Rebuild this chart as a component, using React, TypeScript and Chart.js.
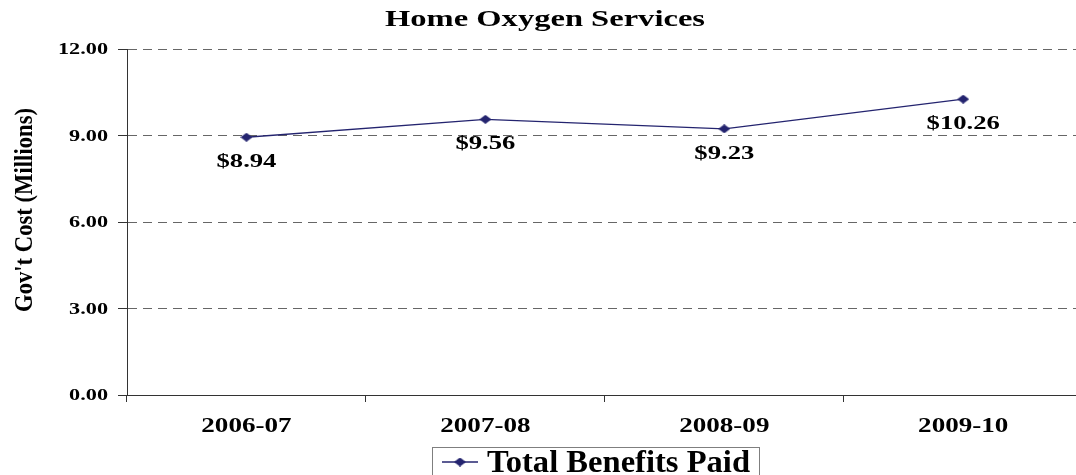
import React, { useEffect, useRef } from "react";
import { Chart, registerables } from "chart.js";

Chart.register(...registerables);

const title = "Home Oxygen Services";
const yAxisTitle = "Gov't Cost (Millions)";
const seriesName = "Total Benefits Paid";
const categories = ["2006-07", "2007-08", "2008-09", "2009-10"];
const values = [8.94, 9.56, 9.23, 10.26];
const yTickValues = [0, 3, 6, 9, 12];
const yTickLabels = ["0.00", "3.00", "6.00", "9.00", "12.00"];
const valueLabels = ["$8.94", "$9.56", "$9.23", "$10.26"];

const FONT = '"Liberation Serif", "Times New Roman", serif';
const LINE_COLOR = "#24246f";

function makeDiamond(w: number, h: number, color: string) {
  const c = document.createElement("canvas");
  c.width = w;
  c.height = h;
  const g = c.getContext("2d")!;
  g.fillStyle = color;
  g.beginPath();
  g.moveTo(w / 2, 0);
  g.lineTo(w, h / 2);
  g.lineTo(w / 2, h);
  g.lineTo(0, h / 2);
  g.closePath();
  g.fill();
  return c;
}

function drawScaled(
  ctx: CanvasRenderingContext2D,
  text: string,
  x: number,
  y: number,
  size: number,
  sx: number,
  align: "left" | "center" | "right",
  baseline: CanvasTextBaseline
) {
  ctx.save();
  ctx.font = `bold ${size}px ${FONT}`;
  ctx.textBaseline = baseline;
  ctx.textAlign = "left";
  const w = ctx.measureText(text).width * sx;
  let left = x;
  if (align === "center") left = x - w / 2;
  if (align === "right") left = x - w;
  ctx.translate(left, y);
  ctx.scale(sx, 1);
  ctx.fillStyle = "#000";
  ctx.fillText(text, 0, 0);
  ctx.restore();
}

function fitWidth(ctx: CanvasRenderingContext2D, text: string, size: number, width: number) {
  ctx.save();
  ctx.font = `bold ${size}px ${FONT}`;
  const w = ctx.measureText(text).width;
  ctx.restore();
  return width / w;
}

let legendDiamond: HTMLCanvasElement;

const textPlugin = {
  id: "customText",
  afterDraw(chart: any) {
    const ctx: CanvasRenderingContext2D = chart.ctx;
    const xs = chart.scales.x;
    const ys = chart.scales.y;

    // Title
    drawScaled(ctx, title, 385, 26, 24, fitWidth(ctx, title, 24, 320), "left", "alphabetic");

    // Y axis title (rotated)
    ctx.save();
    ctx.translate(32, 210);
    ctx.rotate(-Math.PI / 2);
    drawScaled(ctx, yAxisTitle, 0, 0, 26, fitWidth(ctx, yAxisTitle, 26, 204), "center", "alphabetic");
    ctx.restore();

    // Y tick labels
    yTickValues.forEach((v, i) => {
      drawScaled(ctx, yTickLabels[i], 108, ys.getPixelForValue(v) + 1, 16, 1.39, "right", "middle");
    });

    // X labels
    categories.forEach((c, i) => {
      drawScaled(ctx, c, xs.getPixelForValue(i), 432, 21, 1.29, "center", "alphabetic");
    });

    // Data labels
    const meta = chart.getDatasetMeta(0);
    meta.data.forEach((pt: any, i: number) => {
      drawScaled(ctx, valueLabels[i], pt.x, pt.y + 30, 18, 1.48, "center", "alphabetic");
    });

    // Legend
    ctx.save();
    ctx.strokeStyle = "#7f7f7f";
    ctx.lineWidth = 1;
    ctx.strokeRect(432.5, 447.5, 327, 40);
    ctx.strokeStyle = LINE_COLOR;
    ctx.lineWidth = 1.3;
    ctx.beginPath();
    ctx.moveTo(442, 462);
    ctx.lineTo(478, 462);
    ctx.stroke();
    if (legendDiamond) ctx.drawImage(legendDiamond, 460 - 6, 462 - 4.5);
    ctx.restore();
    drawScaled(ctx, seriesName, 487, 472, 31, fitWidth(ctx, seriesName, 31, 263), "left", "alphabetic");
  },
};

export default function App() {
  const ref = useRef<HTMLCanvasElement>(null);

  useEffect(() => {
    if (!ref.current) return;
    const diamond = makeDiamond(12, 9, LINE_COLOR);
    legendDiamond = diamond;
    const chart = new Chart(ref.current, {
      type: "line",
      data: {
        labels: categories,
        datasets: [
          {
            label: seriesName,
            data: values,
            borderColor: LINE_COLOR,
            backgroundColor: LINE_COLOR,
            borderWidth: 1.3,
            pointStyle: diamond as any,
            pointRadius: 6,
            tension: 0,
          },
        ],
      },
      options: {
        responsive: false,
        animation: false,
        events: [],
        layout: { padding: { left: 0, top: 49, right: 7, bottom: 0 } },
        plugins: {
          legend: { display: false },
          title: { display: false },
          tooltip: { enabled: false },
        },
        scales: {
          x: {
            type: "category",
            offset: true,
            grid: {
              offset: true,
              drawOnChartArea: false,
              drawTicks: true,
              tickLength: 7,
              color: "#333",
              tickColor: "#333",
            },
            border: { display: true, color: "#333", width: 1 },
            ticks: { display: false },
            afterFit: (s: any) => {
              s.height = 80;
            },
          },
          y: {
            min: 0,
            max: 12,
            ticks: { display: false, stepSize: 3 },
            grid: {
              drawTicks: true,
              tickLength: 9,
              tickColor: "#333",
              color: (c: any) => (c.tick && c.tick.value === 0 ? "rgba(0,0,0,0)" : "#666"),
              lineWidth: 1,
            },
            border: { display: true, color: "#333", width: 1, dash: [9, 6] },
            afterFit: (s: any) => {
              s.width = 127;
            },
          },
        },
      },
      plugins: [textPlugin],
    });
    return () => chart.destroy();
  }, []);

  return (
    <div
      style={{
        position: "fixed",
        left: 0,
        top: 0,
        width: 1076,
        height: 475,
        overflow: "hidden",
        background: "#fff",
      }}
    >
      <canvas ref={ref} width={1090} height={475} style={{ display: "block" }} />
    </div>
  );
}
